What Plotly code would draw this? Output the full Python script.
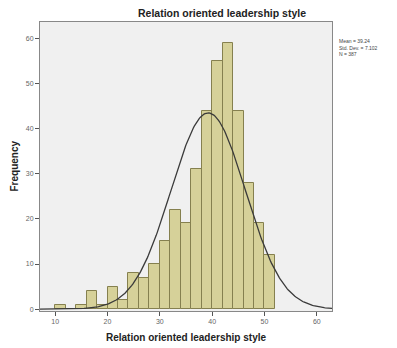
import numpy as np
import plotly.graph_objects as go

# Histogram data (bin width 2, starting at 10)
bin_starts = [10, 12, 14, 16, 18, 20, 22, 24, 26, 28, 30, 32, 34, 36, 38, 40, 42, 44, 46, 48, 50]
counts = [1, 0, 1, 4, 1, 5, 2, 8, 7, 10, 15, 22, 19, 31, 44, 55, 59, 44, 28, 19, 12]
bin_width = 2

# Summary statistics shown in the legend box
mean_val = 39.24
sd_val = 7.102
n_val = 387

x_ticks = [10, 20, 30, 40, 50, 60]
y_ticks = [0, 10, 20, 30, 40, 50, 60]

centers = [b + bin_width / 2 for b in bin_starts]

xs = np.linspace(7.1, 62.9, 300)
ys = n_val * bin_width / (sd_val * np.sqrt(2 * np.pi)) * np.exp(-0.5 * ((xs - mean_val) / sd_val) ** 2)

fig = go.Figure()
fig.add_trace(go.Bar(
    x=centers, y=counts, width=bin_width,
    marker=dict(color="#d6d199", line=dict(color="#85804f", width=1)),
    hoverinfo="skip",
))
fig.add_trace(go.Scatter(
    x=xs, y=ys, mode="lines",
    line=dict(color="#3a3a3a", width=1.3),
    hoverinfo="skip",
))

fig.update_layout(
    width=397, height=348,
    margin=dict(l=32, r=73, t=14, b=45),
    paper_bgcolor="white",
    plot_bgcolor="#f0f0f0",
    showlegend=False,
    bargap=0,
    title=dict(
        text="<b>Relation oriented leadership style</b>",
        x=0.539, xanchor="center", y=0.985, yanchor="middle",
        font=dict(family="Liberation Sans, Arial", size=10.5, color="#222"),
        automargin=False,
    ),
    font=dict(family="Liberation Sans, Arial", color="#555"),
)
fig.update_xaxes(
    range=[7.1, 62.9], tickvals=x_ticks, ticktext=[str(v) for v in x_ticks],
    ticks="outside", ticklen=4, tickcolor="#555", tickfont=dict(size=7, color="#666"),
    showgrid=False, zeroline=False, automargin=False,
    showline=True, linecolor="#888", linewidth=1, mirror=True,
)
fig.update_yaxes(
    range=[-0.4, 63.6], tickvals=y_ticks, ticktext=[str(v) for v in y_ticks],
    ticks="outside", ticklen=4, tickcolor="#555", tickfont=dict(size=7, color="#666"),
    showgrid=False, zeroline=False, automargin=False,
    showline=True, linecolor="#888", linewidth=1, mirror=True,
)

# Axis titles
fig.add_annotation(
    xref="paper", yref="paper", x=0.5, y=-0.093, xanchor="center", yanchor="middle",
    text="<b>Relation oriented leadership style</b>", showarrow=False,
    font=dict(size=10, color="#222"),
)
fig.add_annotation(
    xref="paper", yref="paper", x=-0.089, y=0.5, xanchor="center", yanchor="middle",
    text="<b>Frequency</b>", showarrow=False, textangle=-90,
    font=dict(size=10, color="#222"),
)

fig.add_annotation(
    xref="paper", yref="paper", x=1.017, y=0.95, xanchor="left", yanchor="top",
    text=f"Mean = {mean_val:.2f}<br>Std. Dev. = {sd_val:.3f}<br>N = {n_val}",
    showarrow=False, align="left",
    font=dict(size=5, color="#444"),
)

fig.write_html("out.html")
